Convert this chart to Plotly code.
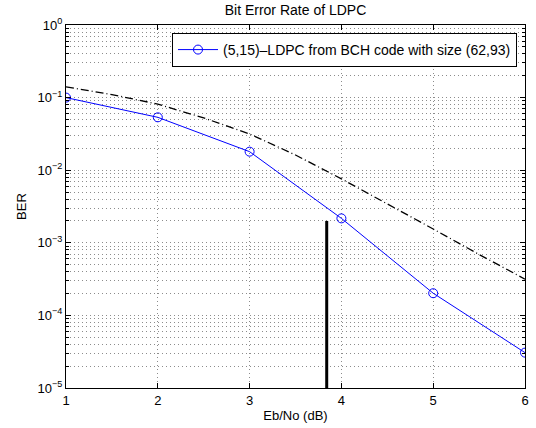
import plotly.graph_objects as go

# Data
ebno = [1, 2, 3, 4, 5, 6]
ber_ldpc = [0.1, 0.0535, 0.018, 0.00217, 0.000202, 0.0000307]

ebno_ref = [1, 1.5, 2, 2.5, 3, 3.5, 4, 4.5, 5, 5.5, 6]
ber_ref = [0.141, 0.110, 0.0813, 0.0525, 0.0316, 0.0162, 0.0076, 0.00347, 0.00155, 0.00069, 0.000316]

marker_x = [3.84, 3.84]
marker_y = [1e-5, 2e-3]

y_exponents = [0, -1, -2, -3, -4, -5]
x_ticks = [1, 2, 3, 4, 5, 6]

legend_label = "(5,15)\u2013LDPC from BCH code with size (62,93)"
title_text = "Bit Error Rate of LDPC"

FONT = "Liberation Sans, Arial, Helvetica, sans-serif"
GRID = "#8c8c8c"
DOTS = "1px,3px"

W, H = 536, 428

fig = go.Figure()
fig.add_trace(go.Scatter(
    x=ebno_ref, y=ber_ref, mode="lines",
    line=dict(color="black", width=1.3, dash="8px,3px,1px,3px"),
    showlegend=False, hoverinfo="skip"))
fig.add_trace(go.Scatter(
    x=ebno, y=ber_ldpc, mode="lines+markers", name=legend_label,
    line=dict(color="#0000ff", width=1),
    marker=dict(symbol="circle-open", size=9, color="#0000ff", line=dict(width=1))))
fig.add_trace(go.Scatter(
    x=marker_x, y=marker_y, mode="lines",
    line=dict(color="black", width=3), showlegend=False, hoverinfo="skip"))

minor_vals = [k * 10.0 ** e for e in range(-5, 0) for k in range(2, 10)]

fig.update_layout(
    width=W, height=H,
    margin=dict(l=66, r=11, t=25, b=40, pad=0),
    paper_bgcolor="white", plot_bgcolor="white",
    font=dict(family=FONT, size=12, color="black"),
    title=dict(text=title_text, x=0.5, xref="paper", xanchor="center",
               y=1 - 10.5 / H, yref="container", yanchor="middle",
               font=dict(size=14)),
    showlegend=True,
    legend=dict(x=0.9826, y=0.978, xanchor="right", yanchor="top",
                bgcolor="white", bordercolor="black", borderwidth=1,
                font=dict(size=14), itemwidth=40,
                tracegroupgap=0),
    xaxis=dict(
        range=[1, 6], tickvals=x_ticks, ticktext=[str(v) for v in x_ticks],
        showgrid=True, gridcolor=GRID, griddash=DOTS, gridwidth=1,
        showline=True, linecolor="black", linewidth=1, mirror="allticks",
        ticks="inside", ticklen=5, tickcolor="black",
        zeroline=False, automargin=False, ticklabeloverflow="allow",
        title=dict(text="Eb/No (dB)", standoff=4, font=dict(size=13)),
        tickfont=dict(size=13),
    ),
    yaxis=dict(
        type="log", range=[-5, 0],
        tickvals=[10.0 ** e for e in y_exponents],
        ticktext=["10<sup>%s</sup>" % (str(e) if e >= 0 else "\u2212" + str(-e)) for e in y_exponents],
        showgrid=True, gridcolor=GRID, griddash=DOTS, gridwidth=1,
        showline=True, linecolor="black", linewidth=1, mirror="allticks",
        ticks="inside", ticklen=5, tickcolor="black",
        zeroline=False, automargin=False, ticklabeloverflow="allow",
        minor=dict(tickvals=minor_vals, showgrid=True, gridcolor=GRID,
                   griddash=DOTS, gridwidth=1, ticks="inside", ticklen=3,
                   tickcolor="black"),
        title=dict(text="BER", standoff=8, font=dict(size=13)),
        tickfont=dict(size=13),
    ),
)

fig.write_html(
    "out.html",
    config={"displayModeBar": False},
    post_script="document.body.style.margin='0';document.body.style.overflow='hidden';",
)
